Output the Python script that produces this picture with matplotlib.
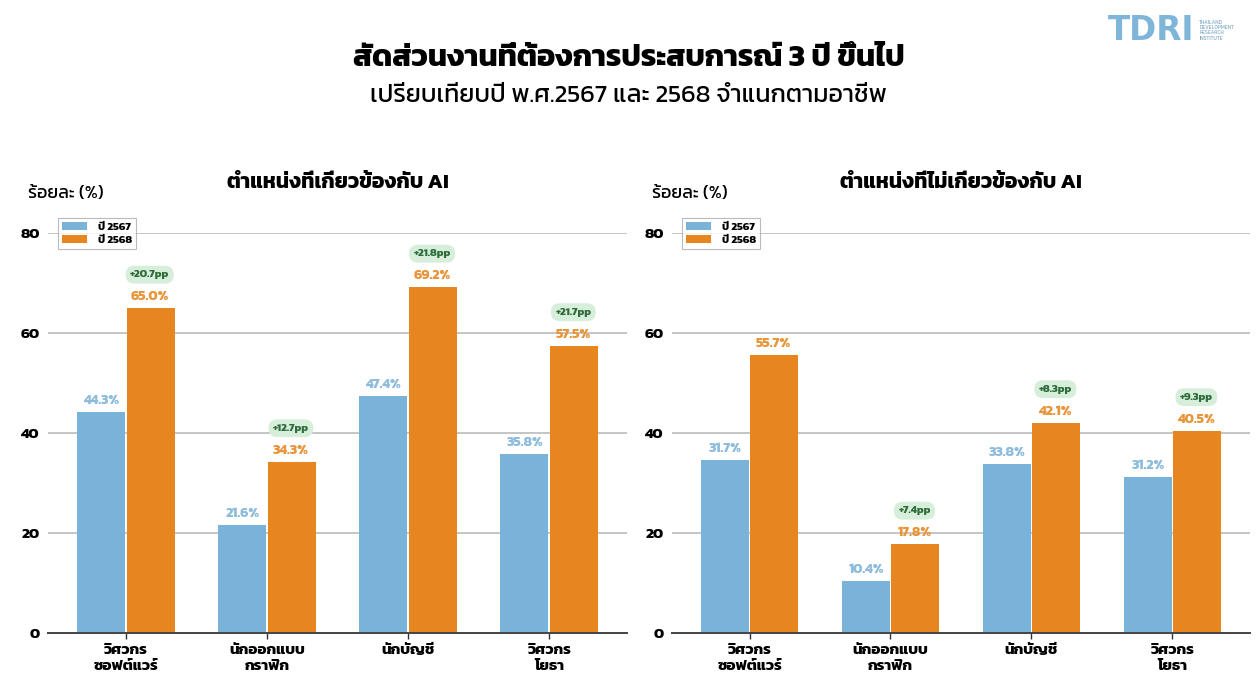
import matplotlib
matplotlib.use('Agg')
import matplotlib.pyplot as plt
from matplotlib import font_manager as fm
import numpy as np

# pick an installed font that actually has Thai glyphs
preferred = ['Kanit', 'Prompt', 'Noto Sans Thai', 'Noto Sans Thai UI', 'Sarabun',
             'Loma', 'Garuda', 'Waree', 'Umpush', 'Tlwg Typo', 'Norasi']
thai_font = None
names = {f.name for f in fm.fontManager.ttflist}
for p in preferred:
    if p in names:
        thai_font = p
        break
if thai_font is None:
    try:
        from fontTools.ttLib import TTFont
        for f in fm.fontManager.ttflist:
            try:
                cmap = TTFont(f.fname, fontNumber=0, lazy=True).getBestCmap()
            except Exception:
                continue
            if cmap and 0x0E01 in cmap and 0x0E48 in cmap:
                thai_font = f.name
                break
    except ImportError:
        pass

families = [thai_font, 'DejaVu Sans'] if thai_font else ['DejaVu Sans']
plt.rcParams['font.family'] = families

categories = ['วิศวกร\nซอฟต์แวร์', 'นักออกแบบ\nกราฟิก', 'นักบัญชี', 'วิศวกร\nโยธา']
years = ['ปี 2567', 'ปี 2568']

ai_2567 = [44.3, 21.6, 47.4, 35.8]
ai_2568 = [65.0, 34.3, 69.2, 57.5]
ai_pp = [20.7, 12.7, 21.8, 21.7]

nonai_2567 = [31.7, 10.4, 33.8, 31.2]
nonai_2567_bar = [34.6, 10.4, 33.8, 31.2]  # first bar is drawn taller than its label in the source
nonai_2568 = [55.7, 17.8, 42.1, 40.5]
nonai_pp = [None, 7.4, 8.3, 9.3]

blue = '#7ab3d9'
orange = '#e7861f'
blue_txt = '#8dbcdc'
orange_txt = '#e9953a'
green_bg = '#d7efda'
green_txt = '#2f6b3b'

fig = plt.figure(figsize=(12.57, 6.88), dpi=100)

fig.text(0.5, 0.915, 'สัดส่วนงานที่ต้องการประสบการณ์ 3 ปี ขึ้นไป',
         ha='center', va='center', fontsize=22, fontweight='bold')
fig.text(0.5, 0.860, 'เปรียบเทียบปี พ.ศ.2567 และ 2568 จำแนกตามอาชีพ',
         ha='center', va='center', fontsize=18)

# TDRI logo
fig.text(0.881, 0.955, 'TDRI', ha='left', va='center', fontsize=23.5,
         fontweight='bold', color='#7fb5d9', family='DejaVu Sans')
fig.text(0.954, 0.956, 'THAILAND\nDEVELOPMENT\nRESEARCH\nINSTITUTE', ha='left',
         va='center', fontsize=3.6, color='#7fa9c6', linespacing=1.1)

panels = [
    ([0.0382, 0.0799, 0.4606, 0.5814], 'ตำแหน่งที่เกี่ยวข้องกับ AI',
     ai_2567, ai_2567, ai_2568, ai_pp),
    ([0.5346, 0.0799, 0.4598, 0.5814], 'ตำแหน่งที่ไม่เกี่ยวข้องกับ AI',
     nonai_2567, nonai_2567_bar, nonai_2568, nonai_pp),
]

x = np.arange(len(categories))
w = 0.34

for rect, title, v1, h1, v2, pp in panels:
    ax = fig.add_axes(rect)
    ax.bar(x - w / 2 - 0.006, h1, w, color=blue, label=years[0], zorder=3)
    ax.bar(x + w / 2 + 0.006, v2, w, color=orange, label=years[1], zorder=3)

    for i in range(len(categories)):
        ax.annotate(f'{v1[i]:.1f}%', (x[i] - w / 2, h1[i]), xytext=(0, 8),
                    textcoords='offset points', ha='center', va='center',
                    fontsize=10, fontweight='bold', color=blue_txt)
        ax.annotate(f'{v2[i]:.1f}%', (x[i] + w / 2, v2[i]), xytext=(0, 8),
                    textcoords='offset points', ha='center', va='center',
                    fontsize=10, fontweight='bold', color=orange_txt)
        if pp[i] is not None:
            ax.annotate(f'+{pp[i]:.1f}pp', (x[i] + w / 2, v2[i]), xytext=(0, 24),
                        textcoords='offset points', ha='center', va='center',
                        fontsize=8, fontweight='bold', color=green_txt,
                        bbox=dict(boxstyle='round,pad=0.4,rounding_size=0.8',
                                  fc=green_bg, ec='none'))

    ax.set_xlim(-0.55, 3.55)
    ax.set_ylim(0, 80)
    ax.set_yticks([0, 20, 40, 60, 80])
    ax.set_xticks(x)
    ax.set_xticklabels(categories, fontsize=11, fontweight='bold', linespacing=1.3,
                       va='top')
    ax.tick_params(axis='y', length=0, pad=6, labelsize=11)
    for t in ax.get_yticklabels():
        t.set_fontweight('bold')
    ax.tick_params(axis='x', length=4, width=1, color='#333333', pad=4)
    ax.grid(axis='y', color='#b5b5b5', linewidth=1.1, zorder=0)
    for s in ['top', 'right', 'left']:
        ax.spines[s].set_visible(False)
    ax.spines['bottom'].set_color('#444444')
    ax.spines['bottom'].set_linewidth(1.4)
    ax.spines['bottom'].set_zorder(4)

    ax.text(0.5, 1.125, title, transform=ax.transAxes, ha='center', va='center',
            fontsize=15, fontweight='bold')
    ax.text(-0.035, 1.10, 'ร้อยละ (%)', transform=ax.transAxes, ha='left',
            va='center', fontsize=13)
    leg = ax.legend(loc='upper left', bbox_to_anchor=(0.008, 1.052),
                    prop=dict(weight='bold', size=8), frameon=True, fancybox=False,
                    edgecolor='#aaaaaa', handlelength=2.2, handleheight=0.8,
                    borderpad=0.35, labelspacing=0.25, handletextpad=1.0)
    leg.get_frame().set_linewidth(0.8)

plt.savefig('out.png', dpi=100)
